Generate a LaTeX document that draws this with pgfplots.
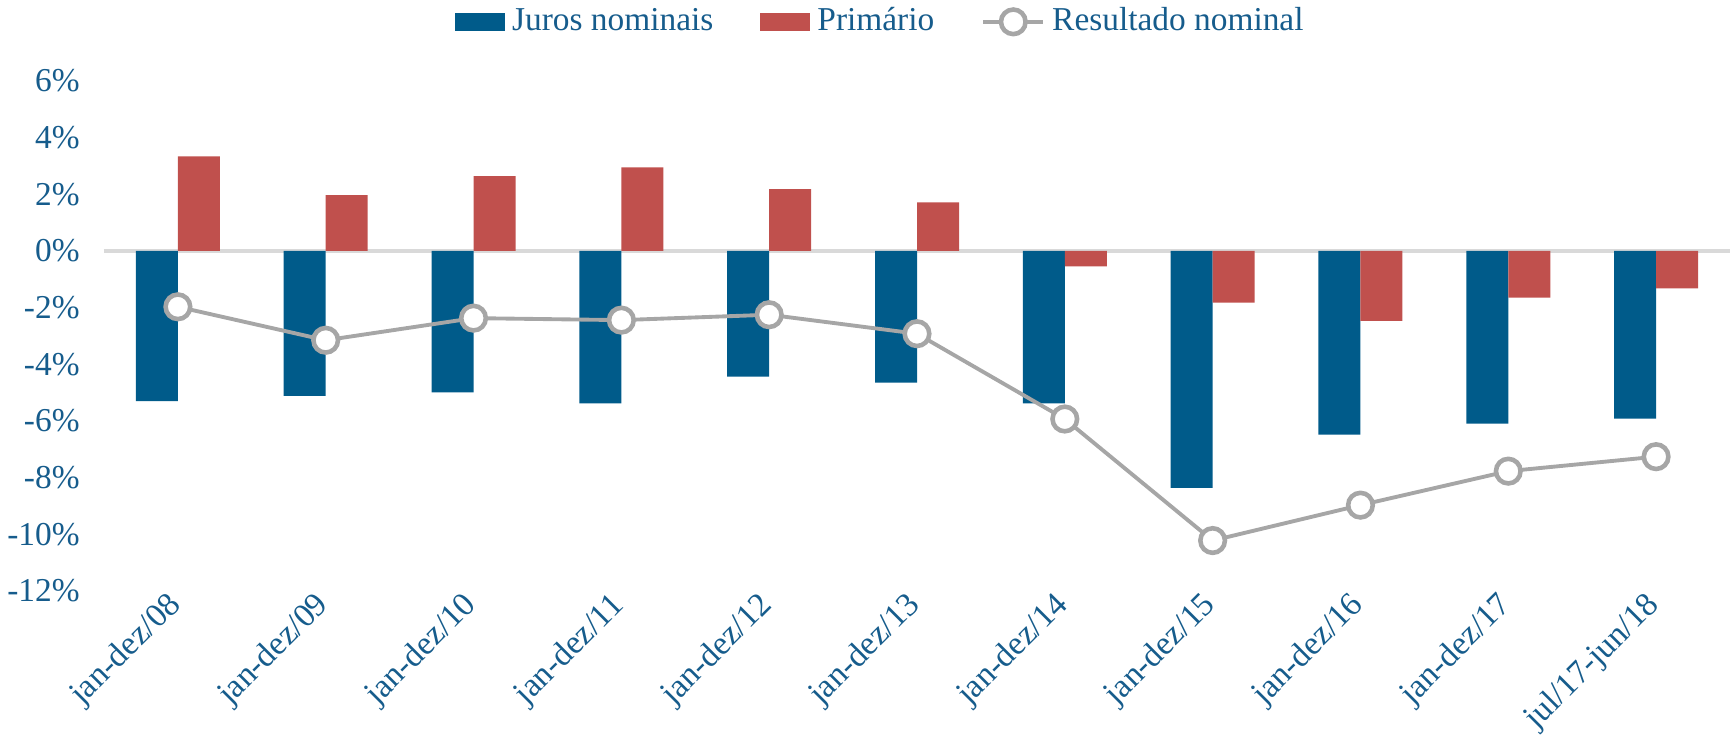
\documentclass[border=0pt]{standalone}
\usepackage{pgfplots}
\pgfplotsset{compat=1.18}
\usepackage{fontspec}
\setmainfont{Liberation Serif}
\definecolor{jblue}{RGB}{0,91,138}
\definecolor{pred}{RGB}{192,80,77}
\definecolor{lgray}{RGB}{166,166,166}
\definecolor{tblue}{RGB}{22,92,140}
\begin{document}
\begin{tikzpicture}
\path[use as bounding box] (-10.4mm,-15.8mm) rectangle (162.8mm,59.1mm);
\begin{axis}[
  scale only axis, width=162.6mm, height=51mm,
  xmin=-0.5, xmax=10.5, ymin=-12, ymax=6,
  axis line style={draw=none},
  major tick style={draw=none},
  xtick={0,...,10},
  xticklabels={jan-dez/08,jan-dez/09,jan-dez/10,jan-dez/11,jan-dez/12,jan-dez/13,jan-dez/14,jan-dez/15,jan-dez/16,jan-dez/17,jul/17-jun/18},
  ytick={-12,-10,...,6},
  yticklabels={-12\%,-10\%,-8\%,-6\%,-4\%,-2\%,0\%,2\%,4\%,6\%},
  ticklabel style={font=\fontsize{9.5}{11}\selectfont, text=tblue},
  xticklabel style={rotate=45, anchor=east, xshift=1.5mm, yshift=0.5mm},
  yticklabel style={xshift=-1.2mm},
  extra y ticks={0}, extra y tick labels={},
  extra y tick style={grid=major, major grid style={draw=black!15, line width=0.9pt}},
  ybar=0pt, bar width=4.2mm,
  legend columns=3,
  legend style={at={(0.479,1.116)}, anchor=center, draw=none, fill=none,
    font=\fontsize{9.5}{11}\selectfont, text=tblue,
    /tikz/every even column/.append style={column sep=4mm},
    inner sep=0pt},
  clip=false,
]
\addplot[ybar, fill=jblue, draw=none, bar shift=-2.1mm,
  legend image code/.code={\fill[jblue] (0mm,-0.9mm) rectangle (5mm,0.9mm);}]
  coordinates {(0,-5.30) (1,-5.11) (2,-4.99) (3,-5.38) (4,-4.43) (5,-4.65) (6,-5.38) (7,-8.36) (8,-6.48) (9,-6.09) (10,-5.92)};
\addlegendentry{Juros nominais}
\addplot[ybar, fill=pred, draw=none, bar shift=2.1mm,
  legend image code/.code={\fill[pred] (0mm,-0.9mm) rectangle (5mm,0.9mm);}]
  coordinates {(0,3.34) (1,1.97) (2,2.64) (3,2.95) (4,2.18) (5,1.72) (6,-0.54) (7,-1.82) (8,-2.47) (9,-1.65) (10,-1.32)};
\addlegendentry{Primário}
\addplot[sharp plot, line legend, color=lgray, line width=1.1pt, mark=*, mark size=3.5pt,
  mark options={fill=white, draw=lgray, line width=1.3pt}]
  coordinates {(0,-1.97) (1,-3.15) (2,-2.37) (3,-2.44) (4,-2.25) (5,-2.92) (6,-5.93) (7,-10.22) (8,-8.97) (9,-7.77) (10,-7.26)};
\addlegendentry{Resultado nominal}
\end{axis}
\end{tikzpicture}
\end{document}
